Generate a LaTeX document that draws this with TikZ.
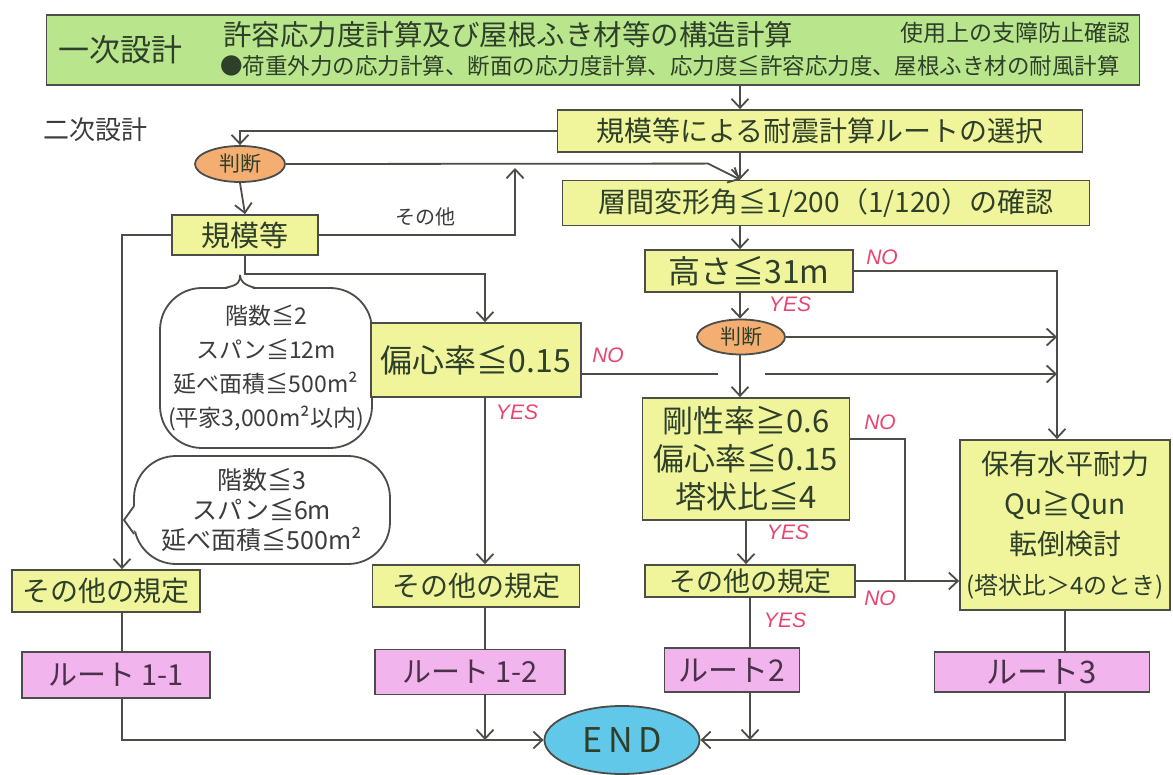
\documentclass[tikz,border=0pt]{standalone}
\usepackage{fontspec}
\setmainfont{Noto Sans CJK JP}
\newfontfamily\labfont{Liberation Sans}
\usetikzlibrary{arrows.meta,shapes.geometric,calc}
\definecolor{gfill}{HTML}{B9E68C}
\definecolor{yfill}{HTML}{F0F59C}
\definecolor{ofill}{HTML}{F4AE72}
\definecolor{pfill}{HTML}{F2B4EC}
\definecolor{bfill}{HTML}{62C8EA}
\definecolor{ink}{HTML}{4A4D48}
\definecolor{txt}{HTML}{2E3F2A}
\definecolor{ptxt}{HTML}{4A3048}
\definecolor{gtxt}{HTML}{3C3C3C}
\definecolor{redl}{HTML}{E8456E}
\newcommand\fsz[2]{\fontsize{#1pt}{#2pt}\selectfont}
\begin{document}
\begin{tikzpicture}[x=1pt,y=-1pt,
  ln/.style={draw=ink, line width=1.8pt},
  arr/.style={ln, -{Straight Barb[length=9pt,width=17pt]}},
  boxy/.style={draw=ink, line width=1.8pt, fill=yfill, text=txt, inner sep=0pt, align=center},
  boxg/.style={boxy, fill=gfill},
  boxp/.style={boxy, fill=pfill, text=ptxt},
  oval/.style={ellipse, draw=ink, line width=1.8pt, fill=ofill, text=txt, inner sep=0pt},
  lab/.style={text=redl, font=\labfont\itshape\fsz{21}{24}},
  bubble/.style={rectangle, rounded corners=42pt, draw=ink, line width=1.8pt, fill=white, text=gtxt, align=center, inner sep=0pt}
]
\useasboundingbox[fill=white] (0,0) rectangle (1173,775);

% column coordinates
\coordinate (colx) at (740,0);
\coordinate (midx) at (485,0);
\coordinate (leftx) at (122,0);
\coordinate (rightx) at (1057,0);
\coordinate (junx) at (905,0);
\coordinate (upx) at (515,168);

% top box
\node[boxg, minimum width=1093pt, minimum height=70pt] (top) at (593,50) {};
\node[text=txt, font=\fsz{31}{34}] (t1) at (120,50) {一次設計};
\node[text=txt, font=\fsz{28.5}{30}] (t2) at (508,35) {許容応力度計算及び屋根ふき材等の構造計算};
\node[text=txt, font=\fsz{23}{26}] (t3) at (1015,33) {使用上の支障防止確認};
\node[text=txt, font=\fsz{22.5}{26}] (t4) at (670,66) {●荷重外力の応力計算、断面の応力度計算、応力度≦許容応力度、屋根ふき材の耐風計算};

\node[text=gtxt, font=\fsz{26}{28}] (niji) at (95,130) {二次設計};

% bubbles (drawn first, behind boxes)
\node[bubble, minimum width=212pt, minimum height=160pt, font=\fsz{23}{34}] (bub1) at (266,368)
  {階数≦2\\スパン≦12m\\延べ面積≦500m²\\(平家3,000m²以内)};
\node[bubble, minimum width=256pt, minimum height=108pt, font=\fsz{25}{30}] (bub2) at (262,510)
  {階数≦3\\スパン≦6m\\延べ面積≦500m²};
\coordinate (tip1) at (240,275);
\coordinate (tip2) at (124,520);
\fill[white] ($(bub1.north)+(-40,3)$) -- (tip1) -- ($(bub1.north)+(-12,3)$) -- cycle;
\draw[ln] ($(bub1.north)+(-42,1)$) .. controls ($(bub1.north)+(-26,-2)$) and ($(tip1)+(0,6)$) .. (tip1);
\draw[ln] (tip1) .. controls ($(tip1)+(0,6)$) and ($(bub1.north)+(-22,-2)$) .. ($(bub1.north)+(-10,1)$);
\fill[white] ($(bub2.west)+(3,-6)$) -- (tip2) -- ($(bub2.west)+(3,22)$) -- cycle;
\draw[ln] ($(bub2.west)+(1,-4)$) -- (tip2) -- ($(bub2.west)+(1,24)$);

% main nodes
\node[boxy, minimum width=525pt, minimum height=42pt, font=\fsz{28}{32}] (sel) at (820,131) {規模等による耐震計算ルートの選択};
\node[boxy, minimum width=527pt, minimum height=45pt, font=\fsz{28}{32}] (sokan) at (826,203) {層間変形角≦1/200（1/120）の確認};
\node[boxy, minimum width=208pt, minimum height=42pt, font=\fsz{32}{34}] (taka) at (749,271) {高さ≦31m};
\node[oval, minimum width=90pt, minimum height=36pt, font=\fsz{21}{24}] (j1) at (240,164) {判断};
\node[boxy, minimum width=146pt, minimum height=40pt, font=\fsz{29}{32}] (kibo) at (245,235) {規模等};
\node[oval, minimum width=88pt, minimum height=35pt, font=\fsz{21}{24}] (j2) at (741,337) {判断};
\node[boxy, minimum width=210pt, minimum height=74pt, font=\fsz{32}{34}] (hen) at (476,360) {偏心率≦0.15};
\node[boxy, minimum width=207pt, minimum height=122pt, font=\fsz{31}{38}] (gosei) at (746,459) {剛性率≧0.6\\偏心率≦0.15\\塔状比≦4};
\node[boxy, minimum width=210pt, minimum height=32pt, font=\fsz{27}{30}] (sono3) at (750,581) {その他の規定};
\node[boxy, minimum width=210pt, minimum height=170pt, font=\fsz{28}{40}] (hoyu) at (1065,525) {保有水平耐力\\Qu≧Qun\\転倒検討\\\fsz{24}{40}(塔状比＞4のとき)};
\node[boxy, minimum width=188pt, minimum height=42pt, font=\fsz{28}{32}] (sono1) at (106,591) {その他の規定};
\node[boxy, minimum width=207pt, minimum height=42pt, font=\fsz{28}{32}] (sono2) at (476,586) {その他の規定};

\node[boxp, minimum width=188pt, minimum height=46pt, font=\fsz{29}{32}] (r11) at (116,675) {ルート 1-1};
\node[boxp, minimum width=190pt, minimum height=45pt, font=\fsz{29}{32}] (r12) at (470,672) {ルート 1-2};
\node[boxp, minimum width=135pt, minimum height=44pt, font=\fsz{30}{32}] (r2) at (732,670) {ルート2};
\node[boxp, minimum width=215pt, minimum height=40pt, font=\fsz{31}{32}] (r3) at (1042,672) {ルート3};
\node[ellipse, draw=ink, line width=1.8pt, fill=bfill, text=txt, inner sep=0pt,
      minimum width=155pt, minimum height=68pt, font=\fsz{34}{36}] (end) at (622,740) {E\,N\,D};

% connectors
\draw[arr] (top.south -| colx) -- (sel.north -| colx);
\draw[arr] (sel.west) -| (j1.north);
\draw[arr] (j1.east) -- ($(sokan.north -| colx)+(-32,-16)$) -- (sokan.north -| colx);
\draw[arr] (sel.south -| colx) -- (sokan.north -| colx);
\draw[arr] (j1.south) -- (kibo.north);
\draw[arr] (kibo.east) -| (upx);
\node[text=gtxt, font=\fsz{20}{22}] (sonolab) at (425,217) {その他};
\draw[arr] (kibo.west) -| (sono1.north -| leftx);
\draw[arr] (kibo.south) |- ($(hen.north -| midx)+(0,-48)$) -- (hen.north -| midx);
\draw[ln] ($(hen.east)+(0,14)$) -- ($(hen.east -| colx)+(-22,14)$);
\draw[arr] ($(hen.east -| colx)+(25,14)$) -- ($(hen.east -| rightx)+(0,14)$);
\draw[arr] (hen.south -| midx) -- (sono2.north -| midx);
\draw[arr] (sokan.south -| colx) -- (taka.north -| colx);
\draw[arr] (taka.east) -| (hoyu.north -| rightx);
\draw[arr] (taka.south -| colx) -- (j2.north -| colx);
\draw[arr] (j2.east) -- (j2.east -| rightx);
\draw[arr] (j2.south -| colx) -- (gosei.north -| colx);
\draw[ln] ($(gosei.north east)+(0,42)$) -| (sono3.east -| junx);
\draw[arr] (gosei.south) -- (sono3.north -| gosei.south);
\draw[arr] (sono3.east) -- (hoyu.west |- sono3.east);
\draw[ln] (sono3.south) -- (r2.north -| sono3.south);
\draw[ln] (hoyu.south) -- (r3.north -| hoyu.south);
\draw[ln] (sono1.south -| leftx) -- (r11.north -| leftx);
\draw[ln] (sono2.south -| midx) -- (r12.north -| midx);
\draw[arr] (r11.south -| leftx) |- (end.west);
\draw[arr] (r12.south -| midx) -- (midx |- end.west);
\draw[arr] (r2.south -| sono3.south) -- (sono3.south |- end.east);
\draw[arr] (r3.south -| hoyu.south) |- (end.east);

% labels
\node[lab] (no1) at (882,257) {NO};
\node[lab] (yes1) at (790,304) {YES};
\node[lab] (no2) at (608,355) {NO};
\node[lab] (yes2) at (517,412) {YES};
\node[lab] (no3) at (880,422) {NO};
\node[lab] (yes3) at (788,532) {YES};
\node[lab] (no4) at (880,598) {NO};
\node[lab] (yes4) at (785,620) {YES};
\end{tikzpicture}
\end{document}
